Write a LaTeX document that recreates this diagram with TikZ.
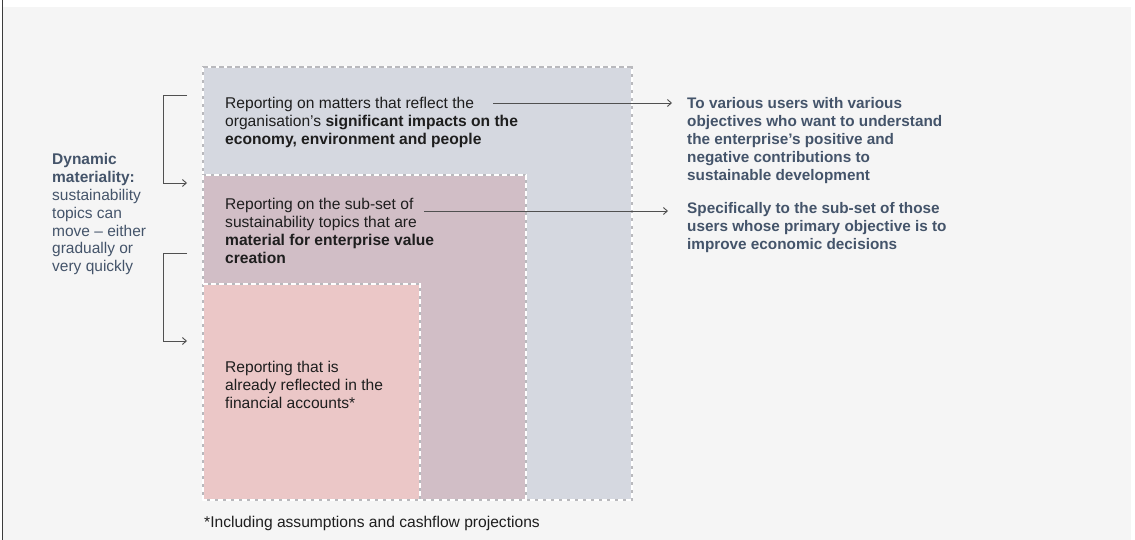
\documentclass[tikz,border=0pt]{standalone}
\usepackage{fontspec}
\setmainfont{Liberation Sans}
\usetikzlibrary{arrows.meta}

\definecolor{pagegray}{HTML}{F5F5F5}
\definecolor{framegray}{HTML}{3C3C3C}
\definecolor{outerfill}{HTML}{D5D8E0}
\definecolor{midfill}{HTML}{D1BEC6}
\definecolor{innerfill}{HTML}{EBC7C7}
\definecolor{rimgray}{HTML}{B9B9BD}
\definecolor{boxink}{HTML}{1E1E1E}
\definecolor{slate}{HTML}{44546A}
\definecolor{lineink}{HTML}{505050}

\tikzset{
  boxtext/.style={anchor=north west, align=left, inner sep=0pt, text=boxink,
    font=\fontsize{15.6}{17.8}\selectfont},
  usertext/.style={anchor=north west, align=left, inner sep=0pt, text=slate,
    font=\fontsize{15.3}{18}\selectfont\bfseries},
  sidetext/.style={anchor=north west, align=left, inner sep=0pt, text=slate,
    font=\fontsize{15.5}{17.8}\selectfont},
  conn/.style={draw=lineink, line width=0.9pt, -{Straight Barb[length=4pt,width=7pt]}},
  dashrim/.style={draw=rimgray, line width=1.6pt,
    postaction={draw=white, line width=1.2pt, dash pattern=on 5pt off 3pt}},
  toprim/.style={draw=white, line width=1.6pt,
    postaction={draw=rimgray, line width=1.4pt, dash pattern=on 5pt off 3pt}},
}

\begin{document}
\begin{tikzpicture}[x=1pt,y=-1pt]
	\useasboundingbox (0,0) rectangle (1135,540);
	\fill[white] (0,0) rectangle (1135,540);
	\fill[pagegray] (3,7.5) rectangle (1131,540);
	\draw[framegray, line width=1.6pt] (2.5,0) -- (2.5,540);

	% nested boxes
	\fill[outerfill] (203,67) rectangle (632,500);
	\fill[midfill] (203,175) rectangle (526,500);
	\fill[innerfill] (203,284) rectangle (420,500);
	\draw[dashrim] (203,67) rectangle (632,500);
	\draw[toprim] (203,67) -- (632,67);
	\draw[dashrim] (203,500) |- (526,175) -- (526,500);
	\draw[dashrim] (203,500) |- (420,284) -- (420,500);

	% texts
	\node[boxtext] (impacts) at (225,97.3) {Reporting on matters that reflect the\\organisation’s \textbf{significant impacts on the}\\\textbf{economy, environment and people}};
	\node[boxtext] (subset) at (225,198.3) {Reporting on the sub-set of\\sustainability topics that are\\\textbf{material for enterprise value}\\\textbf{creation}};
	\node[boxtext] (accounts) at (225,361.3) {Reporting that is\\already reflected in the\\financial accounts*};
	\node[boxtext, anchor=base west] (note) at (204,527) {*Including assumptions and cashflow projections};

	\node[usertext] (allusers) at (687,97.5) {To various users with various\\objectives who want to understand\\the enterprise’s positive and\\negative contributions to\\sustainable development};
	\node[usertext] (investors) at (687,202) {Specifically to the sub-set of those\\users whose primary objective is to\\improve economic decisions};

	\node[sidetext] (dynamic) at (52,153.4) {\textbf{Dynamic}\\\textbf{materiality:}\\sustainability\\topics can\\move -- either\\gradually or\\very quickly};

	% connectors
	\coordinate (m1) at (493,103);
	\coordinate (m2) at (424,211);
	\draw[conn, shorten >=15pt] (m1) -- (m1 -| allusers.west);
	\draw[conn, shorten >=19pt] (m2) -- (m2 -| investors.west);

	% brackets
	\coordinate (b1top) at (187,95);
	\coordinate (b1end) at (187,183);
	\coordinate (b2top) at (187,253);
	\coordinate (b2end) at (187,341);
	\draw[conn] (b1top) -- ++(-24,0) |- (b1end);
	\draw[conn] (b2top) -- ++(-24,0) |- (b2end);
\end{tikzpicture}
\end{document}
